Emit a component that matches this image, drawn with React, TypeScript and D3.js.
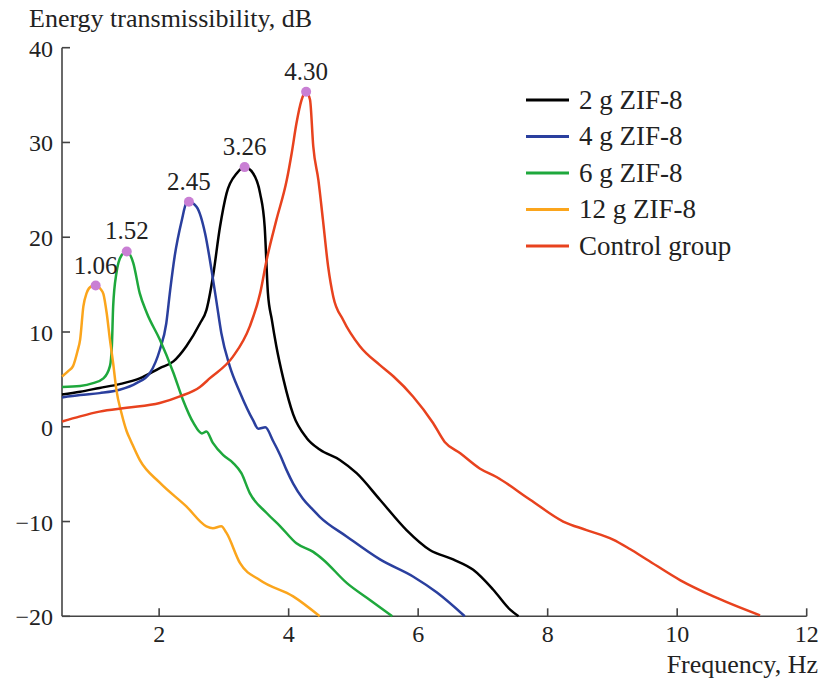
import React from 'react';
import * as d3 from 'd3';

const W = 821;
const H = 681;

// frequency (Hz), energy transmissibility (dB)
const zif2g = [
  [0.5, 3.4], [0.78, 3.7], [1.08, 4.1], [1.39, 4.5], [1.7, 5.1], [2.01, 6.2], [2.22, 6.9],
  [2.42, 8.5], [2.63, 10.9], [2.73, 12.3], [2.83, 15.8], [2.94, 21.1], [3.04, 24.6], [3.2, 26.75],
  [3.32, 27.4], [3.45, 26.75], [3.56, 24.6], [3.63, 21.1], [3.68, 14.1], [3.74, 11.3], [3.81, 8.5],
  [3.92, 5.0], [4.07, 1.3], [4.28, -1.2], [4.48, -2.4], [4.79, -3.5], [5.05, -4.9], [5.41, -7.7],
  [5.82, -10.9], [6.18, -13.0], [6.54, -14.0], [6.85, -15.1], [7.16, -17.2], [7.42, -19.3], [7.55, -20],
];
const zif4g = [
  [0.5, 3.1], [0.78, 3.35], [1.08, 3.55], [1.39, 3.9], [1.65, 4.6], [1.86, 5.7], [2.01, 8.1],
  [2.11, 10.9], [2.17, 14.4], [2.24, 18.0], [2.35, 21.8], [2.42, 23.6], [2.46, 23.75], [2.58, 23.2],
  [2.71, 20.4], [2.81, 16.5], [2.89, 13.0], [2.96, 9.9], [3.09, 6.4], [3.25, 3.6], [3.45, 0.7],
  [3.53, -0.2], [3.64, -0.05], [3.76, -1.5], [3.87, -3.0], [3.97, -4.6], [4.07, -6.0], [4.22, -7.6],
  [4.38, -8.8], [4.48, -9.5], [4.9, -11.6], [5.41, -14.0], [5.92, -15.8], [6.29, -17.5], [6.72, -20],
];
const zif6g = [
  [0.5, 4.2], [0.78, 4.3], [0.98, 4.6], [1.14, 5.1], [1.24, 6.4], [1.27, 8.5], [1.29, 12.7],
  [1.34, 16.2], [1.42, 18.1], [1.5, 18.5], [1.6, 17.3], [1.7, 14.1], [1.81, 12.0], [2.01, 9.2],
  [2.22, 5.7], [2.37, 2.8], [2.53, 0.4], [2.66, -0.7], [2.73, -0.5], [2.83, -1.7], [2.99, -3.0],
  [3.14, -3.8], [3.27, -4.9], [3.4, -7.0], [3.66, -9.1], [3.87, -10.5], [4.12, -12.3], [4.38, -13.2],
  [4.53, -14.0], [4.9, -16.5], [5.26, -18.3], [5.6, -20],
];
const zif12g = [
  [0.5, 5.3], [0.6, 5.9], [0.67, 6.4], [0.74, 8.0], [0.78, 9.2], [0.83, 12.7], [0.88, 14.1],
  [0.95, 14.8], [1.02, 14.9], [1.1, 14.5], [1.14, 14.0], [1.19, 12.0], [1.24, 9.2], [1.29, 6.7],
  [1.34, 3.9], [1.42, 1.4], [1.5, -0.5], [1.57, -1.6], [1.7, -3.5], [2.01, -5.9], [2.42, -8.4],
  [2.73, -10.5], [2.83, -10.7], [2.96, -10.5], [3.04, -11.2], [3.25, -14.4], [3.56, -16.2],
  [4.07, -17.9], [4.48, -20],
];
const control = [
  [0.5, 0.55], [0.78, 1.1], [1.08, 1.6], [1.5, 2.0], [2.01, 2.5], [2.32, 3.2], [2.63, 4.2],
  [2.78, 5.1], [3.14, 7.4], [3.4, 10.6], [3.56, 14.1], [3.66, 17.6], [3.81, 21.8], [3.97, 26.0],
  [4.05, 29.0], [4.12, 32.0], [4.2, 34.5], [4.27, 35.35], [4.33, 34.5], [4.38, 29.6], [4.46, 26.0],
  [4.53, 21.8], [4.61, 16.9], [4.69, 13.7], [4.84, 11.3], [5.1, 8.5], [5.41, 6.5], [5.62, 5.3],
  [5.92, 3.2], [6.23, 0.4], [6.41, -1.6], [6.65, -2.8], [6.95, -4.4], [7.21, -5.3], [7.73, -7.7],
  [8.24, -10.0], [8.6, -10.9], [9.01, -11.9], [9.27, -12.9], [9.53, -14.0], [10.05, -16.2],
  [10.56, -17.9], [11.28, -19.9],
];

const seriesNames = ['2 g ZIF-8', '4 g ZIF-8', '6 g ZIF-8', '12 g ZIF-8', 'Control group'];
const seriesData = [zif2g, zif4g, zif6g, zif12g, control];
const seriesColors = ['#000000', '#2a3f9e', '#1ea83c', '#fba51c', '#e8421e'];

// resonance peak labels (Hz), in series order
const peakLabels = ['3.26', '2.45', '1.52', '1.06', '4.30'];

const xTicks = [2, 4, 6, 8, 10, 12];
const yTicks = [-20, -10, 0, 10, 20, 30, 40];

const serif = '"Liberation Serif", "Times New Roman", serif';

export default function App() {
  const x = d3.scaleLinear().domain([0.5, 12]).range([62, 806.7]);
  const y = d3.scaleLinear().domain([-20, 40]).range([616.3, 47.7]);

  const line = d3
    .line<number[]>()
    .x((d) => x(d[0]))
    .y((d) => y(d[1]))
    .curve(d3.curveMonotoneX);

  const axisColor = '#444';

  return (
    <svg
      width={W}
      height={H}
      style={{ position: 'absolute', left: 0, top: 0, background: '#fff' }}
      fontFamily={serif}
    >
      {/* axes */}
      <line x1={x(0.5)} x2={x(0.5)} y1={y(40)} y2={y(-20)} stroke={axisColor} strokeWidth={1.6} />
      <line x1={x(0.5)} x2={x(12)} y1={y(-20)} y2={y(-20)} stroke={axisColor} strokeWidth={1.6} />
      {yTicks.map((t) => (
        <g key={'y' + t}>
          <line x1={x(0.5)} x2={x(0.5) + 8} y1={y(t)} y2={y(t)} stroke={axisColor} strokeWidth={1.6} />
          <text x={53} y={y(t) + 9} textAnchor="end" fontSize={24} fill="#222">
            {t < 0 ? '\u2212' + Math.abs(t) : t}
          </text>
        </g>
      ))}
      {xTicks.map((t) => (
        <g key={'x' + t}>
          <line x1={x(t)} x2={x(t)} y1={y(-20)} y2={y(-20) - 8} stroke={axisColor} strokeWidth={1.6} />
          <text x={x(t)} y={641.5} textAnchor="middle" fontSize={24} fill="#222">
            {t}
          </text>
        </g>
      ))}
      <text x={29} y={26.5} fontSize={26} fill="#222">
        Energy transmissibility, dB
      </text>
      <text x={818} y={673} textAnchor="end" fontSize={26} fill="#222">
        Frequency, Hz
      </text>

      {/* curves */}
      {seriesData.map((s, i) => (
        <path
          key={seriesNames[i]}
          d={line(s) || ''}
          fill="none"
          stroke={seriesColors[i]}
          strokeWidth={2.5}
          strokeLinejoin="round"
        />
      ))}

      {/* peaks */}
      {seriesData.map((s, i) => {
        const p = d3.greatest(s, (d) => d[1])!;
        return (
          <g key={'p' + i}>
            <circle cx={x(p[0])} cy={y(p[1])} r={5} fill="#c97fd4" />
            <text x={x(p[0])} y={y(p[1]) - 12} textAnchor="middle" fontSize={25} fill="#222">
              {peakLabels[i]}
            </text>
          </g>
        );
      })}

      {/* legend */}
      {seriesNames.map((n, i) => {
        const ly = 100 + i * 36.5;
        return (
          <g key={'l' + n}>
            <line x1={526} x2={569} y1={ly} y2={ly} stroke={seriesColors[i]} strokeWidth={2.8} />
            <text x={579} y={ly + 8.5} fontSize={27} fill="#222">
              {n}
            </text>
          </g>
        );
      })}
    </svg>
  );
}
